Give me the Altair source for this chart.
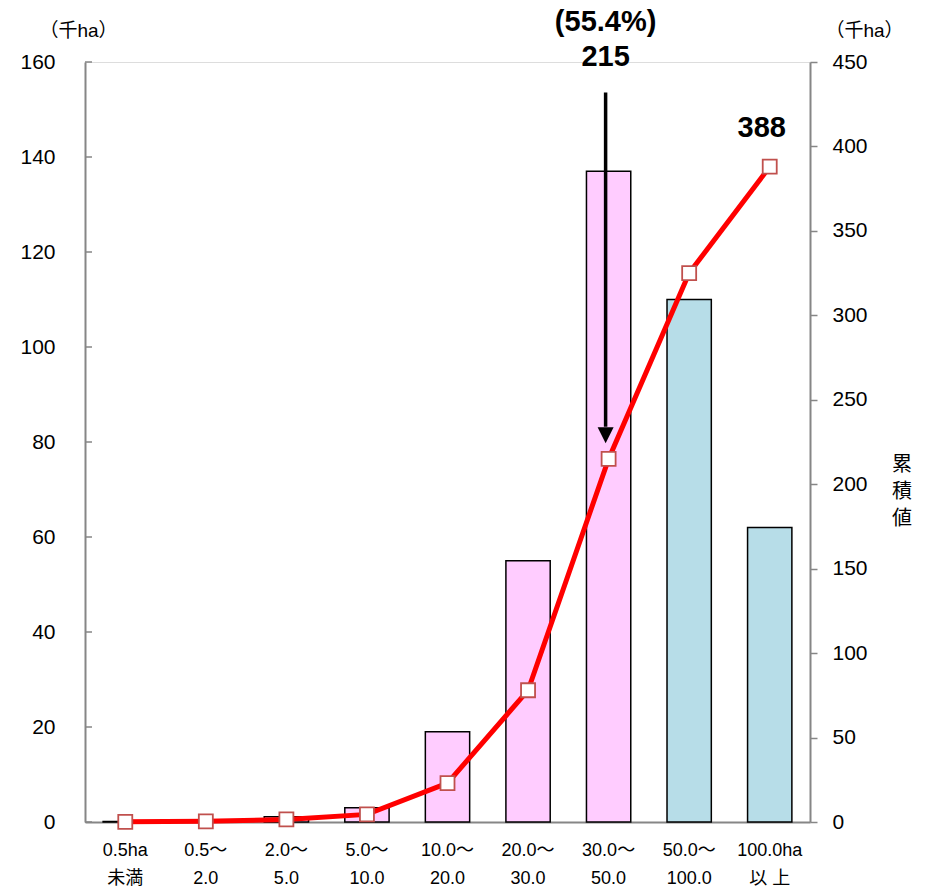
import altair as alt
import pandas as pd

# 経営耕地面積規模別の面積（千ha）と累積値
categories = ["0.5ha\n未満", "0.5～\n2.0", "2.0～\n5.0", "5.0～\n10.0", "10.0～\n20.0",
              "20.0～\n30.0", "30.0～\n50.0", "50.0～\n100.0", "100.0ha\n以 上"]
area = [0.1, 0.3, 1.1, 3.0, 19, 55, 137, 110, 62]
cumulative = [0.1, 0.4, 1.5, 4.5, 23, 78, 215, 325, 388]
size_group = ["50ha未満"] * 7 + ["50ha以上"] * 2
left_ticks = [0, 20, 40, 60, 80, 100, 120, 140, 160]
right_ticks = [0, 50, 100, 150, 200, 250, 300, 350, 400, 450]

FONT = "Liberation Sans, Noto Sans CJK JP, sans-serif"
AXIS_GRAY = "#868686"

df = pd.DataFrame({"cat": categories, "area": area, "cum": cumulative, "grp": size_group})

# 30.0～50.0ha 階層までの累積値と総面積に占める割合
peak = df.iloc[6]
total = df["cum"].iloc[-1]
ann = pd.DataFrame({
    "cat": [peak["cat"]],
    "share": [f"({peak['cum'] / total * 100:.1f}%)"],
    "value": [f"{peak['cum']:.0f}"],
    "top": [432.0],
    "head": [229.0],
    "tip": [234.0],
})

x_enc = alt.X(
    "cat:N",
    sort=categories,
    scale=alt.Scale(domain=categories, paddingInner=0.45, paddingOuter=0.225),
    axis=alt.Axis(
        title=None, labelAngle=0, labelExpr="split(datum.label, '\\n')",
        labelFont=FONT, labelFontSize=18, labelLineHeight=28, labelPadding=19,
        labelColor="black", ticks=False, domainColor=AXIS_GRAY, domainWidth=2,
    ),
)

left_axis = alt.Axis(
    values=left_ticks, title="（千ha）", titleAngle=0, titleX=-7, titleY=-32,
    titleAlign="center", titleBaseline="middle", titleFont=FONT, titleFontSize=19,
    titleFontWeight="normal", titleColor="black",
    ticks=False, labelPadding=30, labelFont=FONT, labelFontSize=21, labelColor="black",
    domainColor=AXIS_GRAY, domainWidth=2, grid=False,
)
left_scale = alt.Scale(domain=[0, 160], nice=False)


def y_right(field):
    return alt.Y(
        f"{field}:Q",
        scale=alt.Scale(domain=[0, 450], nice=False),
        axis=alt.Axis(
            orient="right", values=right_ticks, title="（千ha）", titleAngle=0,
            titleX=54, titleY=-32, titleAlign="center", titleBaseline="middle",
            titleFont=FONT, titleFontSize=19, titleFontWeight="normal", titleColor="black",
            tickSize=7, tickColor=AXIS_GRAY, tickWidth=1.5, labelPadding=15,
            labelFont=FONT, labelFontSize=21, labelColor="black",
            domainColor=AXIS_GRAY, domainWidth=2, grid=False,
        ),
    )


bars = alt.Chart(df).mark_bar(stroke="black", strokeWidth=1.5).encode(
    x=x_enc,
    y=alt.Y("area:Q", scale=left_scale, axis=left_axis),
    color=alt.Color("grp:N", scale=alt.Scale(domain=["50ha未満", "50ha以上"],
                                             range=["#FFCCFF", "#B7DDE8"]), legend=None),
)

# 左軸の内向き目盛
inner_ticks = alt.Chart(pd.DataFrame({"area": left_ticks})).mark_rule(
    color=AXIS_GRAY, strokeWidth=1.5
).encode(
    y=alt.Y("area:Q", scale=left_scale, axis=left_axis),
    x=alt.value(0), x2=alt.value(7),
)

line = alt.Chart(df).mark_line(color="#FF0000", strokeWidth=5).encode(x=x_enc, y=y_right("cum"))

points = alt.Chart(df).mark_point(
    shape="square", filled=True, fill="white", stroke="#C0504D",
    strokeWidth=1.8, size=196, opacity=1
).encode(x=x_enc, y=y_right("cum"))

shaft = alt.Chart(ann).mark_rule(color="black", strokeWidth=3.5, xOffset=-3).encode(
    x=x_enc, y=y_right("top"), y2="tip:Q"
)
head = alt.Chart(ann).mark_point(
    shape="M-1,-1L1,-1L0,1Z", filled=True, color="black", size=256, opacity=1, xOffset=-3
).encode(x=x_enc, y=y_right("head"))

share_text = alt.Chart(ann).mark_text(
    font=FONT, fontSize=29, fontWeight="bold", color="black", dx=-3, baseline="middle"
).encode(x=x_enc, y=alt.value(-40), text="share:N")
value_text = alt.Chart(ann).mark_text(
    font=FONT, fontSize=29, fontWeight="bold", color="black", dx=-3, baseline="middle"
).encode(x=x_enc, y=alt.value(-5), text="value:N")

last_text = alt.Chart(df.tail(1)).mark_text(
    font=FONT, fontSize=29, fontWeight="bold", color="black", dx=-8, dy=-39, baseline="middle"
).encode(x=x_enc, y=y_right("cum"), text=alt.Text("cum:Q", format="d"))

cum_title = alt.Chart(pd.DataFrame({"t": ["累\n積\n値"]})).mark_text(
    font=FONT, fontSize=20, color="black", lineBreak="\n", lineHeight=27, baseline="middle"
).encode(x=alt.value(817), y=alt.value(403), text="t:N")

left = alt.layer(bars, inner_ticks)
right = alt.layer(line, shaft, head, points, last_text, share_text, value_text, cum_title)

chart = alt.layer(left, right).resolve_scale(y="independent").properties(
    width=725, height=760,
    autosize=alt.AutoSizeParams(type="none"),
    padding={"left": 85, "top": 62, "right": 118, "bottom": 66},
).configure_view(stroke=None).configure(background="white")

chart.save("out.html", embed_options={"renderer": "svg", "actions": False})
